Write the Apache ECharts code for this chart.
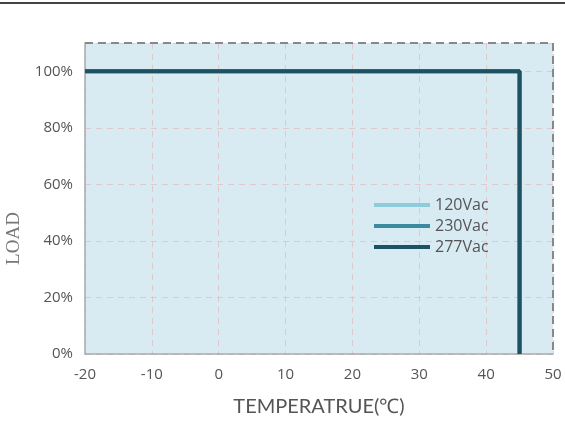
<!DOCTYPE html>
<html><head><meta charset="utf-8">
<script src="https://cdn.jsdelivr.net/npm/echarts@6/dist/echarts.min.js"></script>
<style>html,body{margin:0;padding:0;background:#fff}#c{width:565px;height:422px;position:relative}#top{position:absolute;left:0;top:2px;width:565px;height:2px;background:#444;z-index:10}</style>
</head><body><div id="top"></div><div id="c"></div>
<script>
const seriesNames = ['120Vac', '230Vac', '277Vac'];
const seriesColors = ['#8ecbdc', '#3a8aa0', '#1d5263'];
const temps = [-20, 45, 45];
const load120 = [100, 100, 0];
const load230 = [100, 100, 0];
const load277 = [100, 100, 0];
const xTicks = [-20, -10, 0, 10, 20, 30, 40, 50];
const yTicks = [0, 20, 40, 60, 80, 100];
const loads = [load120, load230, load277];

const chart = echarts.init(document.getElementById('c'));
const gridL = 85, gridT = 43, gridW = 468, gridH = 311;
chart.setOption({
  animation: false,
  backgroundColor: '#fff',
  grid: { left: gridL, top: gridT, width: gridW, height: gridH, show: true, backgroundColor: '#d8ebf3', borderWidth: 0,
    containLabel: false, outerBoundsMode: 'none' },
  legend: {
    orient: 'vertical', left: 369, top: 192, itemWidth: 56, itemHeight: 4, itemGap: 5,
    icon: 'rect',
    data: seriesNames,
    textStyle: { color: '#555', fontSize: 16, fontFamily: 'Open Sans', padding: [0, 0, 0, 0] }
  },
  xAxis: {
    type: 'value', min: -20, max: 50, interval: 10,
    name: 'TEMPERATRUE(℃)', nameLocation: 'middle', nameGap: 43,
    nameTextStyle: { color: '#555', fontSize: 20, fontFamily: 'Lato' },
    axisLine: { show: true, onZero: false, lineStyle: { color: '#aaa', width: 1.5 } },
    axisTick: { show: false },
    axisLabel: { color: '#555', fontSize: 15, margin: 13, fontFamily: 'Open Sans' },
    splitLine: { show: true, lineStyle: { color: '#e0c8cc', type: [6, 5], width: 1 } }
  },
  yAxis: {
    type: 'value', min: 0, max: 110, interval: 20,
    name: 'LOAD', nameLocation: 'middle', nameGap: 54, nameRotate: 90,
    nameTextStyle: { color: '#777', fontSize: 19, fontFamily: 'Liberation Serif', fontWeight: 'normal',
      padding: [0, 80, 0, 0] },
    axisLine: { show: true, onZero: false, lineStyle: { color: '#aaa', width: 1.5 } },
    axisTick: { show: false },
    axisLabel: { color: '#555', fontSize: 15, margin: 12, fontFamily: 'Open Sans',
      formatter: v => yTicks.includes(v) ? v + '%' : '' },
    splitLine: { show: true, lineStyle: { color: '#e0c8cc', type: [6, 5], width: 1 } }
  },
  series: seriesNames.map((n, i) => ({
    name: n, type: 'line', symbol: 'none',
    data: temps.map((t, j) => [t, loads[i][j]]),
    lineStyle: { color: seriesColors[i], width: 4 },
    itemStyle: { color: seriesColors[i] },
    z: 3 + i
  })),
  graphic: [
    { type: 'line', shape: { x1: gridL, y1: gridT, x2: gridL + gridW, y2: gridT },
      style: { stroke: '#888', lineWidth: 2, lineDash: [8, 5] }, z: 10 },
    { type: 'line', shape: { x1: gridL + gridW, y1: gridT, x2: gridL + gridW, y2: gridT + gridH },
      style: { stroke: '#888', lineWidth: 2, lineDash: [8, 5] }, z: 10 }
  ]
});
</script></body></html>
